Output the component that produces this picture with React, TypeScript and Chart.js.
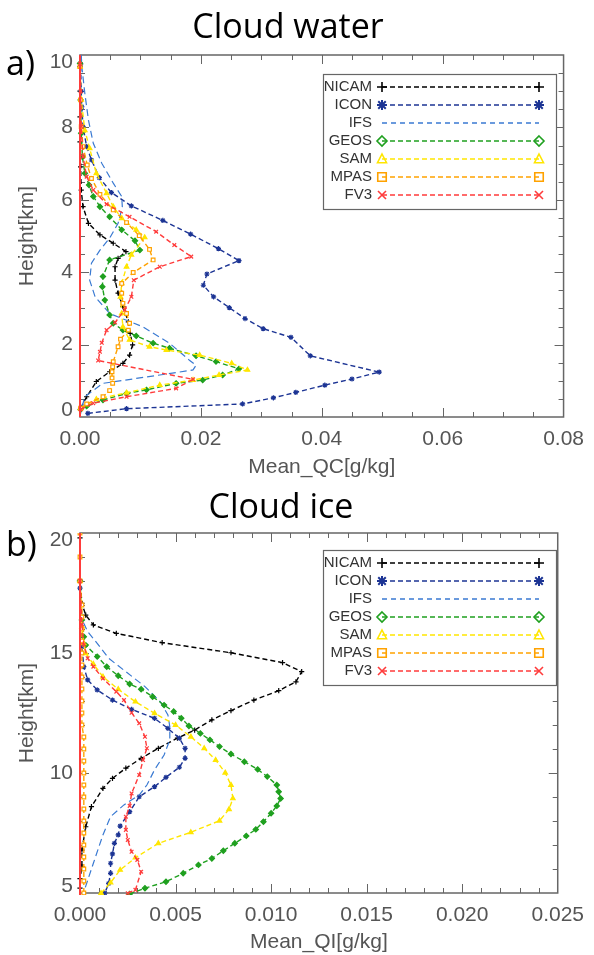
import React, { useEffect, useRef } from "react";
import { Chart, registerables } from "chart.js";

Chart.register(...registerables);

// ---------- legend / series identity ----------
const MODELS = ["NICAM", "ICON", "IFS", "GEOS", "SAM", "MPAS", "FV3"];
const COLORS = ["#000000", "#1c3494", "#3a7ad2", "#1fa01f", "#ffe600", "#ffa200", "#ff3b3b"];
const MARKERS: (string | null)[] = ["cross", "star", null, "rectRot", "triangle", "rect", "crossRot"];

// ---------- panel a) Cloud water : Mean_QC [g/kg] vs height [km] ----------
const QC_XTICKS = [0, 0.02, 0.04, 0.06, 0.08];
const QC_YTICKS = [0, 2, 4, 6, 8, 10];

const QC_NICAM_X = [0.0001, 0.0011, 0.0027, 0.0049, 0.0071, 0.0082, 0.0087, 0.0083, 0.0080, 0.0071, 0.0063, 0.0058, 0.0058, 0.0063, 0.0076, 0.0055, 0.0033, 0.0014, 0.0005, 0.0002, 0.0001, 0, 0, 0, 0, 0];
const QC_NICAM_H = [0.24, 0.56, 0.98, 1.25, 1.48, 1.71, 1.99, 2.31, 2.63, 3.05, 3.42, 3.78, 4.15, 4.38, 4.57, 4.80, 5.03, 5.35, 5.81, 6.27, 6.91, 7.6, 8.29, 9.0, 9.68, 10.4];

const QC_ICON_X = [0.0013, 0.0077, 0.0269, 0.0320, 0.0357, 0.0405, 0.0450, 0.0495, 0.0381, 0.0349, 0.0303, 0.0273, 0.0247, 0.0221, 0.0204, 0.0210, 0.0263, 0.0229, 0.0183, 0.0137, 0.0085, 0.0052, 0.0032, 0.0019, 0.0011, 0.0005, 0.0003, 0.0002, 0.0001, 0];
const QC_ICON_H = [0.10, 0.23, 0.36, 0.53, 0.68, 0.88, 1.05, 1.24, 1.69, 2.20, 2.44, 2.72, 3.02, 3.32, 3.64, 3.95, 4.32, 4.65, 5.05, 5.43, 5.83, 6.20, 6.61, 7.10, 7.47, 8.02, 8.57, 9.00, 9.75, 10.4];

const QC_IFS_X = [0.0000, 0.0002, 0.0008, 0.0038, 0.0132, 0.0187, 0.0192, 0.0181, 0.0148, 0.0104, 0.0049, 0.0025, 0.0016, 0.0019, 0.0033, 0.0049, 0.0063, 0.0070, 0.0069, 0.0055, 0.0036, 0.0022, 0.0014, 0.0008, 0.0003, 0.0001];
const QC_IFS_H = [0.0, 0.19, 0.56, 0.93, 1.16, 1.30, 1.43, 1.57, 2.04, 2.49, 2.86, 3.32, 3.78, 4.25, 4.61, 4.94, 5.35, 5.81, 6.09, 6.46, 7.01, 7.56, 8.20, 8.94, 9.68, 10.4];

const QC_GEOS_X = [0.0001, 0.0011, 0.0038, 0.0077, 0.0110, 0.0159, 0.0203, 0.0236, 0.0263, 0.0225, 0.0192, 0.0148, 0.0121, 0.0093, 0.0071, 0.0055, 0.0049, 0.0041, 0.0037, 0.0038, 0.0049, 0.0099, 0.0091, 0.0069, 0.0049, 0.0033, 0.0022, 0.0015, 0.0008, 0.0004, 0.0002, 0.0001, 0, 0];
const QC_GEOS_H = [0.21, 0.30, 0.47, 0.65, 0.75, 0.93, 1.02, 1.16, 1.33, 1.53, 1.69, 1.90, 2.04, 2.24, 2.40, 2.59, 2.82, 3.23, 3.60, 3.88, 4.34, 4.61, 4.87, 5.17, 5.53, 5.81, 6.09, 6.41, 6.73, 7.19, 7.84, 8.76, 9.77, 10.4];

const QC_SAM_X = [0.0001, 0.0027, 0.0077, 0.0132, 0.0187, 0.0230, 0.0277, 0.0251, 0.0198, 0.0143, 0.0115, 0.0082, 0.0071, 0.0069, 0.0067, 0.0069, 0.0077, 0.0085, 0.0107, 0.0093, 0.0069, 0.0055, 0.0044, 0.0027, 0.0016, 0.0008, 0.0002, 0, 0];
const QC_SAM_H = [0.24, 0.49, 0.67, 0.88, 1.02, 1.16, 1.30, 1.48, 1.71, 1.85, 1.94, 2.13, 2.49, 2.86, 3.32, 3.69, 4.15, 4.48, 4.96, 5.17, 5.49, 5.81, 6.18, 6.73, 7.42, 7.92, 8.76, 9.68, 10.4];

const QC_MPAS_X = [0.0001, 0.0011, 0.0038, 0.0049, 0.0054, 0.0053, 0.0053, 0.0054, 0.0055, 0.0063, 0.0067, 0.0080, 0.0082, 0.0077, 0.0071, 0.0069, 0.0069, 0.0088, 0.0121, 0.0115, 0.0098, 0.0077, 0.0055, 0.0033, 0.0019, 0.0012, 0.0005, 0.0002, 0.0001, 0, 0];
const QC_MPAS_H = [0.24, 0.36, 0.56, 0.73, 0.93, 1.08, 1.25, 1.39, 1.53, 1.94, 2.15, 2.40, 2.59, 2.86, 3.14, 3.42, 3.69, 3.99, 4.34, 4.63, 5.01, 5.37, 5.72, 6.15, 6.59, 6.96, 7.47, 8.02, 8.76, 9.68, 10.4];

const QC_FV3_X = [0.0001, 0.0022, 0.0077, 0.0159, 0.0187, 0.0030, 0.0033, 0.0036, 0.0044, 0.0058, 0.0074, 0.0085, 0.0089, 0.0132, 0.0184, 0.0156, 0.0126, 0.0082, 0.0044, 0.0022, 0.0011, 0.0005, 0.0002, 0.0001, 0, 0];
const QC_FV3_H = [0.21, 0.38, 0.56, 0.79, 1.04, 1.56, 1.80, 2.05, 2.40, 2.61, 2.96, 3.32, 3.78, 4.15, 4.43, 4.75, 5.12, 5.53, 5.88, 6.27, 6.64, 7.19, 8.02, 9.0, 9.75, 10.4];

const QC_ZERO_H = [0, 10.4];

// ---------- panel b) Cloud ice : Mean_QI [g/kg] vs height [km] ----------
const QI_XTICKS = [0, 0.005, 0.01, 0.015, 0.02, 0.025];
const QI_YTICKS = [5, 10, 15, 20];

const QI_NICAM_X = [0, 0, 0, 0.0001, 0.0001, 0.0003, 0.0006, 0.0012, 0.0017, 0.0024, 0.0032, 0.0041, 0.0051, 0.0060, 0.0069, 0.0079, 0.0091, 0.0104, 0.0113, 0.0116, 0.0106, 0.0079, 0.0043, 0.0019, 0.0007, 0.0003, 0.0001, 0, 0, 0];
const QI_NICAM_H = [4.8, 5.2, 5.6, 6.1, 6.79, 7.76, 8.60, 9.36, 9.78, 10.20, 10.61, 11.03, 11.45, 11.79, 12.21, 12.60, 13.04, 13.43, 13.80, 14.22, 14.60, 15.01, 15.43, 15.82, 16.17, 16.58, 17.07, 18.04, 19.8, 20.5];

const QI_ICON_X = [0.0012, 0.0013, 0.0015, 0.0016, 0.0016, 0.0017, 0.0018, 0.0020, 0.0021, 0.0026, 0.0031, 0.0039, 0.0045, 0.0052, 0.0055, 0.0055, 0.0052, 0.0046, 0.0039, 0.0027, 0.0017, 0.0009, 0.0004, 0.0002, 0.0001, 0, 0];
const QI_ICON_H = [4.8, 5.00, 5.40, 5.82, 6.24, 6.63, 7.07, 7.42, 7.79, 8.39, 9.01, 9.43, 9.82, 10.24, 10.61, 11.03, 11.45, 11.86, 12.28, 12.65, 13.04, 13.46, 13.88, 14.43, 15.26, 17.7, 20.5];

const QI_IFS_X = [0.0001, 0.0002, 0.0007, 0.0012, 0.0016, 0.0023, 0.0031, 0.0035, 0.0039, 0.0044, 0.0047, 0.0047, 0.0046, 0.0042, 0.0034, 0.0024, 0.0015, 0.0009, 0.0004, 0.0002, 0, 0, 0];
const QI_IFS_H = [4.8, 5.05, 6.24, 7.42, 8.18, 8.67, 9.08, 9.50, 10.13, 10.75, 11.38, 11.93, 12.42, 12.97, 13.60, 14.22, 14.78, 15.40, 15.89, 16.24, 16.92, 18.8, 20.5];

const QI_GEOS_X = [0.0026, 0.0034, 0.0045, 0.0054, 0.0062, 0.0069, 0.0075, 0.0081, 0.0087, 0.0092, 0.0096, 0.0100, 0.0103, 0.0105, 0.0104, 0.0103, 0.0098, 0.0093, 0.0086, 0.0079, 0.0073, 0.0068, 0.0063, 0.0057, 0.0053, 0.0049, 0.0044, 0.0038, 0.0032, 0.0026, 0.0020, 0.0014, 0.0009, 0.0003, 0.0002, 0.0001, 0, 0];
const QI_GEOS_H = [4.96, 5.20, 5.47, 5.82, 6.17, 6.44, 6.76, 7.07, 7.38, 7.65, 7.97, 8.32, 8.63, 8.94, 9.22, 9.50, 9.85, 10.15, 10.47, 10.79, 11.10, 11.38, 11.65, 11.96, 12.28, 12.56, 12.83, 13.18, 13.49, 13.71, 14.05, 14.43, 14.85, 15.33, 15.68, 16.38, 18.0, 20.5];

const QI_SAM_X = [0.0011, 0.0016, 0.0021, 0.0029, 0.0041, 0.0058, 0.0073, 0.0078, 0.0080, 0.0079, 0.0076, 0.0071, 0.0065, 0.0058, 0.0050, 0.0039, 0.0029, 0.0020, 0.0012, 0.0007, 0.0003, 0.0002, 0.0001, 0, 0];
const QI_SAM_H = [4.99, 5.43, 5.96, 6.47, 7.07, 7.53, 8.01, 8.49, 8.94, 9.50, 10.01, 10.54, 11.03, 11.51, 12.00, 12.49, 12.97, 13.49, 14.01, 14.54, 14.99, 15.40, 16.10, 18.0, 20.5];

const QI_MPAS_X = [0.0002, 0.0002, 0.0002, 0.0002, 0.0002, 0.0002, 0.0002, 0.0002, 0.0002, 0.0002, 0.0002, 0.0002, 0.0002, 0.0002, 0.0001, 0.0001, 0.0001, 0.0001, 0.0001, 0.0001, 0.0001, 0.0001, 0.0001, 0.0001, 0.0001, 0, 0, 0, 0];
const QI_MPAS_H = [5.0, 5.5, 6.0, 6.5, 7.0, 7.5, 8.0, 8.5, 9.0, 9.5, 10.0, 10.5, 11.0, 11.5, 12.0, 12.5, 13.0, 13.5, 14.0, 14.5, 15.0, 15.5, 16.0, 16.5, 17.0, 18.0, 19.0, 20.0, 20.5];

const QI_FV3_X = [0.0025, 0.0029, 0.0032, 0.0030, 0.0027, 0.0025, 0.0024, 0.0024, 0.0026, 0.0027, 0.0031, 0.0033, 0.0035, 0.0034, 0.0031, 0.0027, 0.0023, 0.0019, 0.0012, 0.0007, 0.0004, 0.0002, 0.0001, 0, 0];
const QI_FV3_H = [4.99, 5.13, 5.89, 6.38, 6.72, 7.21, 7.63, 8.18, 8.63, 9.15, 9.92, 10.54, 11.03, 11.51, 12.07, 12.51, 13.04, 13.39, 13.94, 14.43, 14.78, 15.33, 16.20, 18.0, 20.5];

const QI_ZERO_H = [4.8, 20.5];

// ---------- drawing helpers ----------
const AX_FONT = '"Liberation Sans", Arial, sans-serif';
const AX_COLOR = "#555555";

function drawMarker(ctx: CanvasRenderingContext2D, kind: string, x: number, y: number, r: number, color: string) {
  ctx.save();
  ctx.setLineDash([]);
  ctx.strokeStyle = color;
  ctx.lineWidth = 1.6;
  ctx.beginPath();
  if (kind === "cross") {
    ctx.moveTo(x - r, y); ctx.lineTo(x + r, y);
    ctx.moveTo(x, y - r); ctx.lineTo(x, y + r);
  } else if (kind === "star") {
    ctx.lineWidth = 2;
    const d = r * 0.75;
    ctx.moveTo(x - r, y); ctx.lineTo(x + r, y);
    ctx.moveTo(x, y - r); ctx.lineTo(x, y + r);
    ctx.moveTo(x - d, y - d); ctx.lineTo(x + d, y + d);
    ctx.moveTo(x - d, y + d); ctx.lineTo(x + d, y - d);
  } else if (kind === "rectRot") {
    ctx.moveTo(x, y - r); ctx.lineTo(x + r, y); ctx.lineTo(x, y + r); ctx.lineTo(x - r, y); ctx.closePath();
  } else if (kind === "triangle") {
    ctx.moveTo(x, y - r); ctx.lineTo(x + r * 0.9, y + r * 0.75); ctx.lineTo(x - r * 0.9, y + r * 0.75); ctx.closePath();
  } else if (kind === "rect") {
    const s = r * 0.85;
    ctx.rect(x - s, y - s, 2 * s, 2 * s);
  } else if (kind === "crossRot") {
    const d = r * 0.8;
    ctx.moveTo(x - d, y - d); ctx.lineTo(x + d, y + d);
    ctx.moveTo(x - d, y + d); ctx.lineTo(x + d, y - d);
  }
  ctx.stroke();
  ctx.restore();
}

const framePlugin = {
  id: "idlFrame",
  beforeDatasetsDraw(chart: any, _args: any, o: any) {
    const { ctx, chartArea: ca, scales } = chart;
    const xs = scales.x, ys = scales.y;
    ctx.save();
    ctx.strokeStyle = o.color;
    ctx.lineWidth = 1;
    ctx.beginPath();
    const nx = Math.round((xs.max - xs.min) / o.xMinor);
    for (let i = 1; i < nx; i++) {
      const px = Math.round(xs.getPixelForValue(xs.min + i * o.xMinor)) + 0.5;
      const len = i % o.xPer === 0 ? o.majorLen : o.minorLen;
      ctx.moveTo(px, ca.bottom); ctx.lineTo(px, ca.bottom - len);
      ctx.moveTo(px, ca.top); ctx.lineTo(px, ca.top + len);
    }
    const ny = Math.round((ys.max - ys.min) / o.yMinor);
    for (let i = 1; i < ny; i++) {
      const py = Math.round(ys.getPixelForValue(ys.min + i * o.yMinor)) + 0.5;
      const len = i % o.yPer === 0 ? o.majorLen : o.minorLen;
      ctx.moveTo(ca.left, py); ctx.lineTo(ca.left + len, py);
      ctx.moveTo(ca.right, py); ctx.lineTo(ca.right - len, py);
    }
    ctx.stroke();
    ctx.lineWidth = o.width;
    ctx.strokeRect(ca.left, ca.top, ca.right - ca.left, ca.bottom - ca.top);
    ctx.restore();
  },
};

const legendPlugin = {
  id: "idlLegend",
  afterDatasetsDraw(chart: any, _args: any, o: any) {
    const { ctx } = chart;
    ctx.save();
    ctx.fillStyle = "#ffffff";
    ctx.fillRect(o.left, o.top, o.width, o.height);
    ctx.strokeStyle = "#666666";
    ctx.lineWidth = 1.2;
    ctx.strokeRect(o.left + 0.5, o.top + 0.5, o.width, o.height);
    ctx.font = o.font;
    ctx.textAlign = "right";
    ctx.textBaseline = "middle";
    MODELS.forEach((name, i) => {
      const yy = Math.round(o.top + o.firstRow + i * o.rowGap);
      ctx.fillStyle = "#333333";
      ctx.fillText(name, o.labelRight, yy);
      ctx.strokeStyle = COLORS[i];
      ctx.lineWidth = MARKERS[i] ? 1.3 : 1.5;
      ctx.setLineDash(MARKERS[i] ? [5, 3] : [5, 4]);
      ctx.beginPath();
      ctx.moveTo(o.lineX0, yy);
      ctx.lineTo(o.lineX1, yy);
      ctx.stroke();
      ctx.setLineDash([]);
      const m = MARKERS[i];
      if (m) {
        drawMarker(ctx, m, o.lineX0, yy, o.markR, COLORS[i]);
        drawMarker(ctx, m, o.lineX1, yy, o.markR, COLORS[i]);
      }
    });
    ctx.restore();
  },
};

function pts(xs: number[], hs: number[]) {
  return xs.map((x, i) => ({ x, y: hs[i] }));
}

function buildConfig(p: any) {
  const datasets: any[] = p.series.map((s: number[][], i: number) => {
    const m = MARKERS[i];
    return {
      label: MODELS[i],
      data: pts(s[0], s[1]),
      showLine: true,
      borderColor: COLORS[i],
      borderWidth: m ? 1.4 : 1.2,
      borderDash: m ? [5, 3] : [7, 4],
      pointStyle: m || "circle",
      pointRadius: m ? 2.6 : 0,
      pointBorderWidth: 1.2,
      pointBorderColor: COLORS[i],
      pointBackgroundColor: m === "rect" ? "#ffffff" : COLORS[i],
      order: 10 - i,
      clip: { left: 4, top: 0, right: 0, bottom: 2 },
    };
  });
  datasets.push({
    label: "zero",
    data: pts([0, 0], p.zero),
    showLine: true,
    borderColor: COLORS[6],
    borderWidth: 2,
    pointRadius: 0,
    order: 0,
    clip: { left: 4, top: 0, right: 0, bottom: 2 },
  });
  return {
    type: "scatter",
    data: { datasets },
    options: {
      animation: false,
      responsive: false,
      events: [],
      layout: { padding: { left: 0, right: 28, top: p.padTop, bottom: 0 } },
      plugins: {
        legend: { display: false },
        tooltip: { enabled: false },
        idlFrame: { color: "#666666", width: 1.5, xMinor: p.xMinor, xPer: p.xPer, yMinor: p.yMinor, yPer: p.yPer, majorLen: 9, minorLen: 5 },
        idlLegend: p.legend,
      },
      scales: {
        x: {
          type: "linear",
          min: p.xTicks[0],
          max: p.xTicks[p.xTicks.length - 1],
          afterBuildTicks: (s: any) => { s.ticks = p.xTicks.map((v: number) => ({ value: v })); },
          afterFit: (s: any) => { s.height = p.xAxisH; },
          grid: { display: false, drawTicks: false },
          border: { display: false },
          ticks: {
            autoSkip: false, maxRotation: 0, padding: 10, color: AX_COLOR,
            font: { family: AX_FONT, size: 21 },
            callback: (v: any) => Number(v).toFixed(p.xDigits),
          },
          title: { display: true, text: p.xTitle, color: AX_COLOR, font: { family: AX_FONT, size: 21 }, padding: { top: 0, bottom: 0 } },
        },
        y: {
          type: "linear",
          min: p.yTicks[0],
          max: p.yTicks[p.yTicks.length - 1],
          afterBuildTicks: (s: any) => { s.ticks = p.yTicks.map((v: number) => ({ value: v })); },
          afterFit: (s: any) => { s.width = 80; },
          grid: { display: false, drawTicks: false },
          border: { display: false },
          ticks: {
            autoSkip: false, padding: 7, color: AX_COLOR,
            font: { family: AX_FONT, size: 21, lineHeight: 0.67 },
            // end labels sit slightly inside the frame, as in the original plot
            callback: (v: any, i: number, t: any[]) =>
              i === 0 ? [String(v), ""] : i === t.length - 1 ? ["", String(v)] : String(v),
          },
          title: { display: true, text: "Height[km]", color: AX_COLOR, font: { family: AX_FONT, size: 21 }, padding: { top: 15, bottom: 0 } },
        },
      },
    },
    plugins: [framePlugin, legendPlugin],
  };
}

const PANEL_A = {
  series: [[QC_NICAM_X, QC_NICAM_H], [QC_ICON_X, QC_ICON_H], [QC_IFS_X, QC_IFS_H], [QC_GEOS_X, QC_GEOS_H], [QC_SAM_X, QC_SAM_H], [QC_MPAS_X, QC_MPAS_H], [QC_FV3_X, QC_FV3_H]],
  zero: QC_ZERO_H,
  xTicks: QC_XTICKS, yTicks: QC_YTICKS, xDigits: 2,
  xMinor: 0.005, xPer: 4, yMinor: 0.5, yPer: 4,
  xTitle: "Mean_QC[g/kg]",
  padTop: 55, xAxisH: 63,
  legend: { left: 323, top: 74, width: 233, height: 135, firstRow: 13, rowGap: 18, labelRight: 372, lineX0: 382, lineX1: 539, markR: 5, font: '15px "Liberation Sans", Arial, sans-serif' },
};

const PANEL_B = {
  series: [[QI_NICAM_X, QI_NICAM_H], [QI_ICON_X, QI_ICON_H], [QI_IFS_X, QI_IFS_H], [QI_GEOS_X, QI_GEOS_H], [QI_SAM_X, QI_SAM_H], [QI_MPAS_X, QI_MPAS_H], [QI_FV3_X, QI_FV3_H]],
  zero: QI_ZERO_H,
  xTicks: QI_XTICKS, yTicks: QI_YTICKS, xDigits: 3,
  xMinor: 0.001, xPer: 5, yMinor: 1, yPer: 5,
  xTitle: "Mean_QI[g/kg]",
  padTop: 53, xAxisH: 62,
  legend: { left: 323, top: 70, width: 233, height: 135, firstRow: 13, rowGap: 18, labelRight: 372, lineX0: 382, lineX1: 539, markR: 5, font: '15px "Liberation Sans", Arial, sans-serif' },
};

const TITLE_FONT = '"Open Sans", "Noto Sans", sans-serif';

export default function App() {
  const refA = useRef<HTMLCanvasElement>(null);
  const refB = useRef<HTMLCanvasElement>(null);

  useEffect(() => {
    const a = new Chart(refA.current as HTMLCanvasElement, buildConfig(PANEL_A) as any);
    const b = new Chart(refB.current as HTMLCanvasElement, buildConfig(PANEL_B) as any);
    return () => { a.destroy(); b.destroy(); };
  }, []);

  const txt = (s: React.CSSProperties): React.CSSProperties => ({
    position: "absolute", fontFamily: TITLE_FONT, fontSize: 34, lineHeight: "40px", color: "#000", whiteSpace: "nowrap", ...s,
  });

  return (
    <div style={{ position: "absolute", left: 0, top: 0, width: 594, height: 955, background: "#fff", overflow: "hidden" }}>
      <canvas ref={refA} width={594} height={480} style={{ position: "absolute", left: 0, top: 0, width: 594, height: 480 }} />
      <canvas ref={refB} width={594} height={475} style={{ position: "absolute", left: 0, top: 480, width: 594, height: 475 }} />
      <div style={txt({ left: 0, width: 576, top: 5, textAlign: "center" })}>Cloud water</div>
      <div style={txt({ left: 6, top: 42 })}>a)</div>
      <div style={txt({ left: 0, width: 562, top: 485, textAlign: "center" })}>Cloud ice</div>
      <div style={txt({ left: 6, top: 523 })}>b)</div>
    </div>
  );
}
